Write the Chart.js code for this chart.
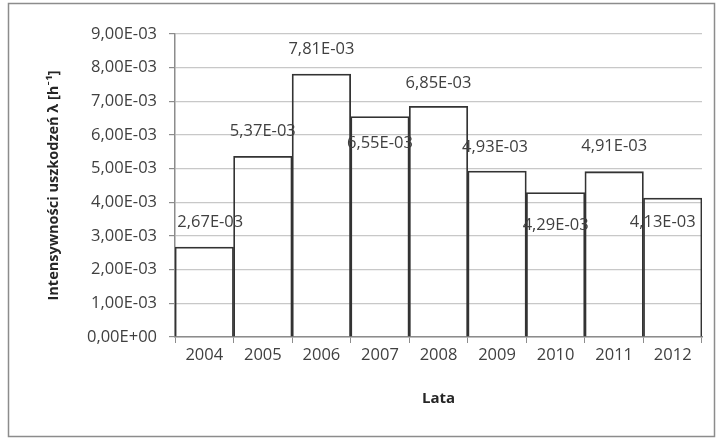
<!DOCTYPE html>
<html>
<head>
<meta charset="utf-8">
<script src="https://cdn.jsdelivr.net/npm/chart.js@4"></script>
<style>
  html, body { margin: 0; padding: 0; background: #fff; }
  #wrap { width: 720px; height: 441px; }
</style>
</head>
<body>
<div id="wrap"><canvas id="chart" width="720" height="441"></canvas></div>
<script>
const years = ['2004', '2005', '2006', '2007', '2008', '2009', '2010', '2011', '2012'];
const failureRate = [2.67e-3, 5.37e-3, 7.81e-3, 6.55e-3, 6.85e-3, 4.93e-3, 4.29e-3, 4.91e-3, 4.13e-3];
const yTicks = [0, 1e-3, 2e-3, 3e-3, 4e-3, 5e-3, 6e-3, 7e-3, 8e-3, 9e-3];

// Excel style "7,81E-03"
function formatExp(v) {
  if (v === 0) return '0,00E+00';
  const parts = v.toExponential(2).split('e');
  const mant = parts[0].replace('.', ',');
  const exp = parseInt(parts[1], 10);
  const sign = exp < 0 ? '-' : '+';
  const e = String(Math.abs(exp)).padStart(2, '0');
  return mant + 'E' + sign + e;
}

const FONT = '"Open Sans", Lato, sans-serif';

// frame round the whole chart
const framePlugin = {
  id: 'frame',
  beforeDraw(chart) {
    const ctx = chart.ctx;
    ctx.save();
    ctx.fillStyle = '#fff';
    ctx.fillRect(0, 0, chart.width, chart.height);
    ctx.strokeStyle = '#8c8c8c';
    ctx.lineWidth = 1.5;
    ctx.strokeRect(8.5, 3.5, 706, 433);
    ctx.restore();
  }
};

// value labels, placed by hand like in the original sheet
const valueLabels = {
  id: 'valueLabels',
  afterDatasetsDraw(chart, args, opts) {
    const ctx = chart.ctx;
    const meta = chart.getDatasetMeta(0);
    ctx.save();
    ctx.font = '16.5px ' + FONT;
    ctx.fillStyle = '#404040';
    ctx.textAlign = 'center';
    ctx.textBaseline = 'middle';
    meta.data.forEach((bar, i) => {
      const off = opts.offsets[i] || [0, -25];
      ctx.fillText(formatExp(chart.data.datasets[0].data[i]), bar.x + off[0], bar.y + off[1]);
    });
    ctx.restore();
  }
};

const ctx = document.getElementById('chart').getContext('2d');
new Chart(ctx, {
  type: 'bar',
  data: {
    labels: years,
    datasets: [{
      data: failureRate,
      backgroundColor: 'rgba(255,255,255,0)',
      borderColor: '#333333',
      borderWidth: 1.1,
      barPercentage: 1.0,
      categoryPercentage: 1.0
    }]
  },
  options: {
    responsive: false,
    animation: false,
    layout: { padding: { left: 36, right: 18, top: 34, bottom: 30 } },
    plugins: {
      legend: { display: false },
      tooltip: { enabled: false },
      valueLabels: {
        offsets: [[6, -25], [0, -25], [0, -25], [0, 27], [0, -23], [-2, -24], [0, 33], [0, -25], [-10, 24]]
      }
    },
    scales: {
      x: {
        offset: true,
        grid: {
          offset: true,
          drawOnChartArea: false,
          color: '#8c8c8c',
          tickLength: 6
        },
        border: { color: '#8c8c8c', width: 1.5 },
        ticks: {
          color: '#404040',
          font: { family: FONT, size: 16.5 },
          padding: 2,
          maxRotation: 0
        },
        title: {
          display: true,
          text: 'Lata',
          color: '#262626',
          font: { family: FONT, size: 15, weight: 'bold' },
          padding: { top: 6, bottom: 3 }
        },
        afterFit(scale) { scale.height = 74; }
      },
      y: {
        min: 0,
        max: 9e-3,
        afterBuildTicks(scale) {
          scale.ticks = yTicks.map(v => ({ value: v }));
        },
        grid: {
          color: '#c8c8c8',
          lineWidth: 1.2,
          tickLength: 6,
          tickColor: '#8c8c8c'
        },
        border: { color: '#8c8c8c', width: 1.5 },
        ticks: {
          color: '#404040',
          font: { family: FONT, size: 16.5 },
          padding: 12,
          callback: v => formatExp(v)
        },
        title: {
          display: true,
          text: 'Intensywności uszkodzeń λ [h⁻¹]',
          color: '#262626',
          font: { family: FONT, size: 14.5, weight: 'bold' },
          padding: { top: 9, bottom: 4 }
        },
        afterFit(scale) { scale.width = 139; }
      }
    }
  },
  plugins: [framePlugin, valueLabels]
});
</script>
</body>
</html>
